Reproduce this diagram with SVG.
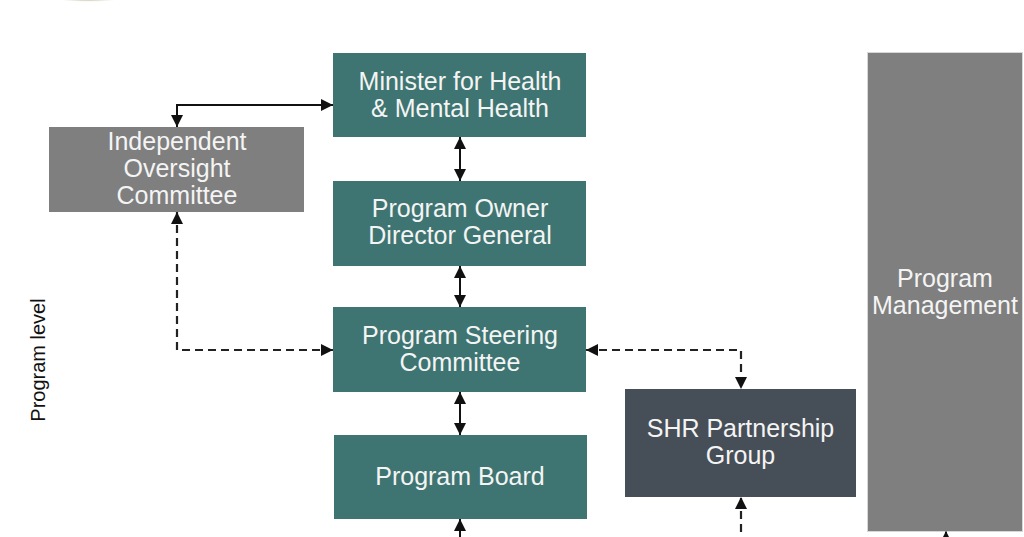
<svg xmlns="http://www.w3.org/2000/svg" width="1024" height="537" viewBox="0 0 1024 537">
  <defs>
    <style>
      .teal { fill: #3e7471; }
      .gray { fill: #7f7f7f; }
      .dark { fill: #464e57; }
      .lbl { font-family: "Liberation Sans", Arial, sans-serif; font-size: 25px; fill: #f4f4f4; text-anchor: middle; }
      .side { font-family: "Liberation Sans", Arial, sans-serif; font-size: 20px; fill: #111; text-anchor: middle; }
      .solid { fill: none; stroke: #111; stroke-width: 2; }
      .dash { fill: none; stroke: #222; stroke-width: 2.2; stroke-dasharray: 8 5; }
    </style>
    <marker id="arr" markerUnits="userSpaceOnUse" markerWidth="12" markerHeight="12" viewBox="0 0 12 12" refX="12" refY="6" orient="auto-start-reverse">
      <path d="M0,0 L12,6 L0,12 z" fill="#111"/>
    </marker>
    <radialGradient id="logo" cx="0.5" cy="0.3" r="0.6">
      <stop offset="0" stop-color="#aca47f"/>
      <stop offset="0.8" stop-color="#c9c3a8"/>
      <stop offset="1" stop-color="#ffffff" stop-opacity="0"/>
    </radialGradient>
  </defs>
  <rect width="1024" height="537" fill="#ffffff"/>
  <ellipse cx="88" cy="-5" rx="44" ry="9" fill="url(#logo)"/>

  <g id="connectors">
    <path class="solid" d="M177,127 V105 H333" marker-start="url(#arr)" marker-end="url(#arr)"/>
    <path class="solid" d="M460,137 V181" marker-start="url(#arr)" marker-end="url(#arr)"/>
    <path class="solid" d="M460,266 V307" marker-start="url(#arr)" marker-end="url(#arr)"/>
    <path class="solid" d="M460,392 V435" marker-start="url(#arr)" marker-end="url(#arr)"/>
    <path class="solid" d="M460,545 V519" marker-end="url(#arr)"/>
    <path class="dash" d="M177,212 V350 H333" marker-start="url(#arr)" marker-end="url(#arr)"/>
    <path class="dash" d="M586,350 H741 V389" marker-start="url(#arr)" marker-end="url(#arr)"/>
    <path class="dash" d="M741,545 V497" marker-end="url(#arr)"/>
    <path class="solid" d="M946,545 V531" marker-end="url(#arr)"/>
  </g>

  <g id="minister">
    <rect class="teal" x="333" y="53" width="253" height="84"/>
    <text class="lbl" x="460" y="90">Minister for Health</text>
    <text class="lbl" x="460" y="117">&amp; Mental Health</text>
  </g>
  <g id="oversight">
    <rect class="gray" x="49" y="127" width="255" height="85"/>
    <text class="lbl" x="177" y="150">Independent</text>
    <text class="lbl" x="177" y="177">Oversight</text>
    <text class="lbl" x="177" y="204">Committee</text>
  </g>
  <g id="owner">
    <rect class="teal" x="333" y="181" width="253" height="85"/>
    <text class="lbl" x="460" y="217">Program Owner</text>
    <text class="lbl" x="460" y="244">Director General</text>
  </g>
  <g id="steering">
    <rect class="teal" x="333" y="307" width="253" height="85"/>
    <text class="lbl" x="460" y="344">Program Steering</text>
    <text class="lbl" x="460" y="371">Committee</text>
  </g>
  <g id="board">
    <rect class="teal" x="334" y="435" width="253" height="84"/>
    <text class="lbl" x="460" y="485">Program Board</text>
  </g>
  <g id="shr">
    <rect class="dark" x="625" y="389" width="231" height="108"/>
    <text class="lbl" x="740.5" y="437">SHR Partnership</text>
    <text class="lbl" x="740.5" y="464">Group</text>
  </g>
  <g id="management">
    <rect x="867" y="52" width="156" height="480" fill="#bdbdbd" opacity="0.6"/>
    <rect class="gray" x="868" y="53" width="154" height="478"/>
    <text class="lbl" x="945" y="287">Program</text>
    <text class="lbl" x="945" y="314">Management</text>
  </g>
  <g id="program-level">
    <text class="side" transform="translate(45,360) rotate(-90)">Program level</text>
  </g>
</svg>
